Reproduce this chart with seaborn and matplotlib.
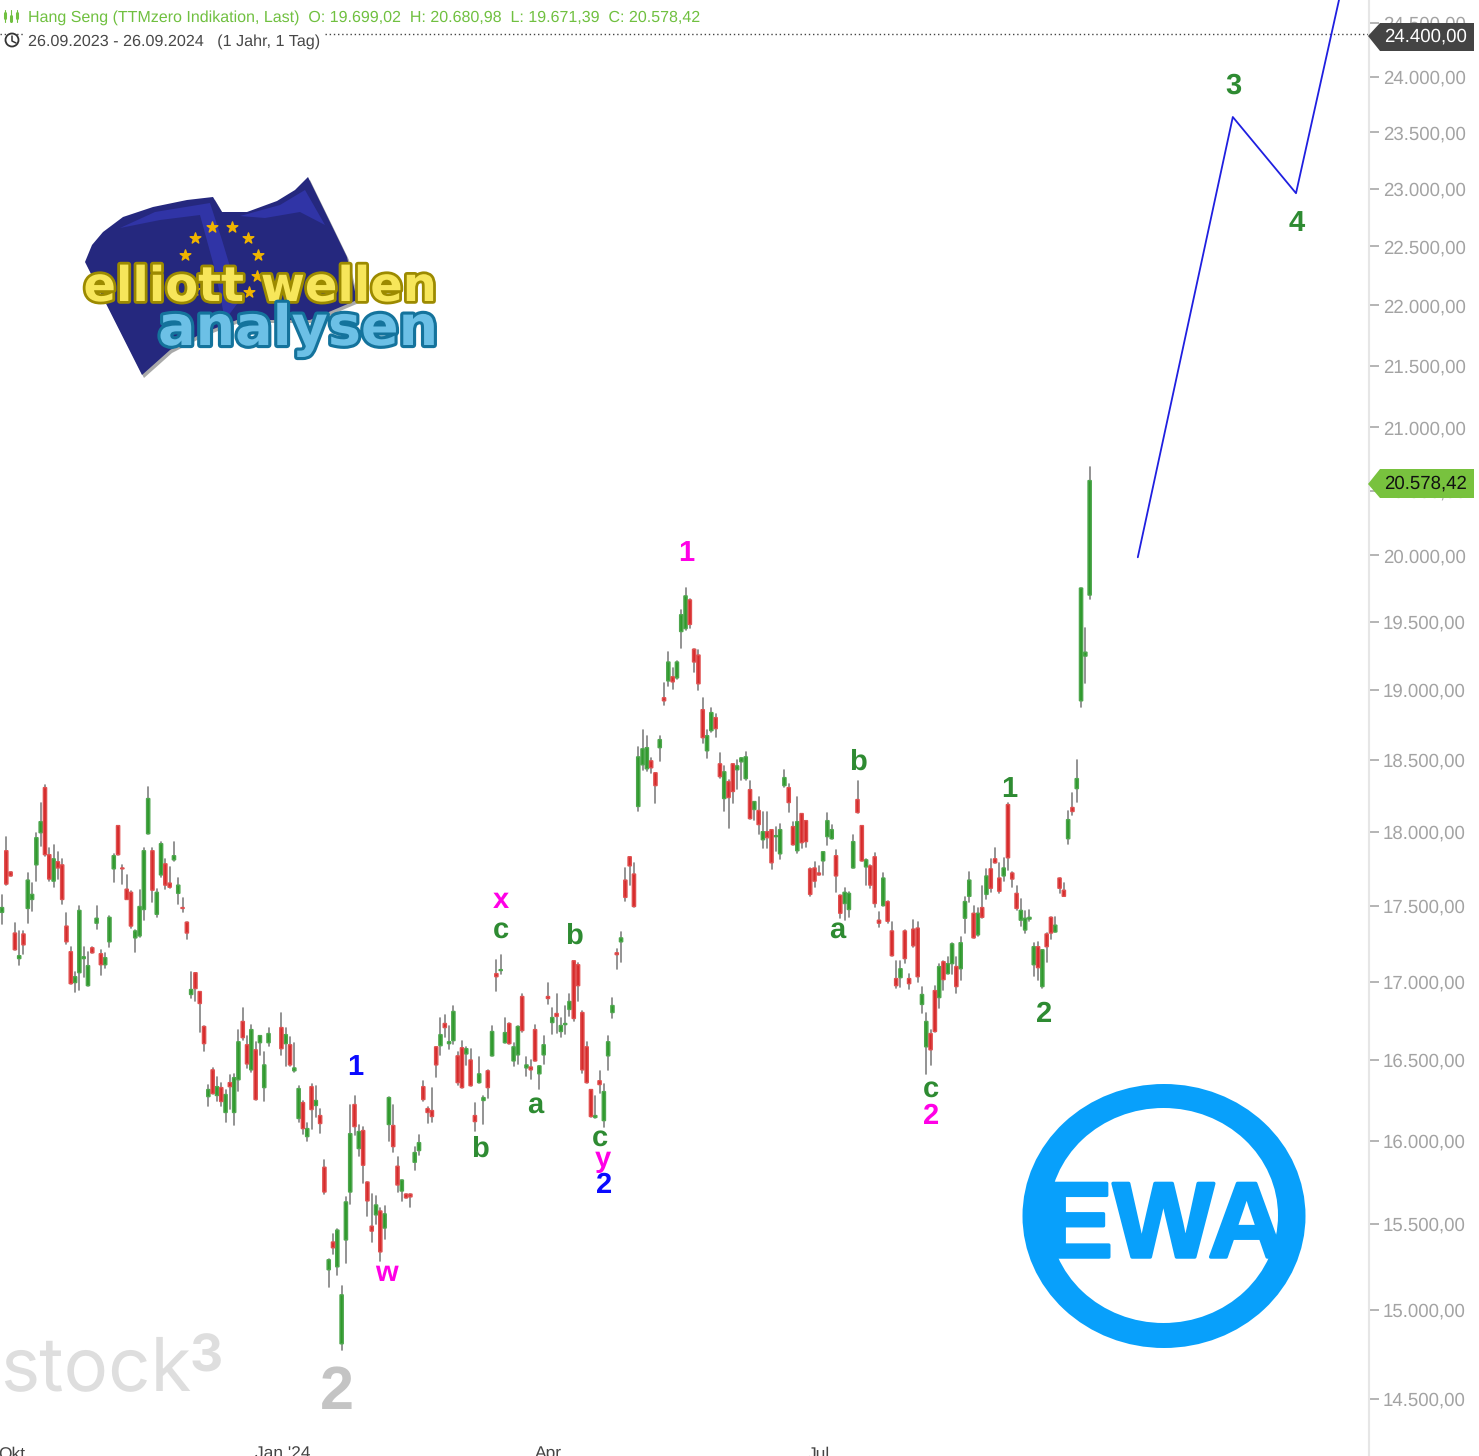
import numpy as np
import pandas as pd
import matplotlib
matplotlib.use("Agg")
import matplotlib.pyplot as plt
import matplotlib.patheffects as pe
from matplotlib.patches import Polygon, Ellipse, Circle
import seaborn as sns

# weekday slots, two days around new year are missing
skipped_days = [63, 64]
days = [d for d in range(254) if d not in skipped_days]

highs = [
    17569, 17966, 17726, 17383, 17332, 17332, 17719, 17651, 17993, 18201,
    18326, 17890, 17911, 17863, 17815, 17449, 17228, 17065, 17500, 17228,
    17195, 17228, 17500, 17208, 17188, 17429, 17849, 18042, 17774, 17706,
    17596, 17338, 17603, 17890, 18312, 17890, 17610, 17932, 17815, 17760,
    17932, 17685, 17548, 17390, 17065, 17058, 16936, 16712, 16346, 16450,
    16395, 16358, 16315, 16407, 16413, 16692, 16827, 16654, 16724, 16615,
    16654, 16551, 16705,
    16801, 16705, 16647, 16609, 16339, 16241, 16111, 16352, 16339, 16197,
    15881, 15296, 15441, 15470, 15139, 15661, 16222, 16278, 16099, 16086,
    15750, 15678, 15667, 15595, 15607, 16271, 16222, 15899, 15762, 15678,
    15678, 15964, 16037, 16370, 16204, 16327, 16583, 16763, 16788, 16718,
    16846, 16551, 16622, 16583, 16571, 16234, 16519, 16278, 16438, 16712,
    17143, 17176, 16763, 16731, 16609, 16718, 16923, 16519, 16500, 16724,
    16463, 16654, 16994, 16827, 16923, 16763, 16846, 16923, 17136, 17124,
    16808, 16615, 16315, 16278, 16432, 16352, 16654, 16897, 17214, 17325,
    17753, 17829, 17788, 18593, 18714, 18671, 18514, 18409, 18671, 19051,
    19275, 19160, 19210, 19589, 19752, 19670, 19297, 19290, 18943, 18714,
    18871, 18828, 18550, 18458, 18361, 18472, 18500, 18514, 18557, 18354,
    18208, 18243, 18139, 18139, 18014, 18035, 18056, 18430, 18333, 18069,
    18243, 18125, 18076, 17753, 17795, 17767, 17863, 18132, 18049, 17877,
    17569, 17616, 17589, 17979, 18354, 18042, 17815, 17774, 17856, 17455,
    17719, 17534, 17390, 17136, 17136, 17338, 17052, 17403, 17390, 16968,
    16801, 16692, 16974, 17117, 17136, 17162, 17254, 17162, 17292, 17555,
    17726, 17500, 17481, 17630, 17747, 17815, 17890, 17788, 17822, 18201,
    17726, 17630, 17541, 17462, 17468, 17254, 17260, 17208, 17318, 17422,
    17422, 17685, 17651, 18146, 18271, 18500, 19752, 19456, 20681,
]
lows = [
    17377, 17637, 17699, 17208, 17110, 17182, 17383, 17462, 17664, 17904,
    17836, 17664, 17623, 17678, 17514, 17247, 16987, 16936, 16949, 17032,
    16974, 17188, 17344, 17046, 17091, 17228, 17658, 17843, 17644, 17541,
    17351, 17195, 17292, 17403, 17986, 17521, 17422, 17692, 17610, 17616,
    17801, 17514, 17455, 17280, 16897, 16878, 16680, 16558, 16210, 16290,
    16241, 16210, 16117, 16197, 16093, 16308, 16628, 16450, 16426, 16253,
    16532, 16241, 16590,
    16532, 16463, 16463, 16426, 16117, 16043, 16000, 16074, 16148, 16049,
    15678, 15133, 15325, 15203, 14774, 15273, 15619, 16037, 15905, 15744,
    15548, 15394, 15500, 15284, 15412, 16000, 15934, 15690, 15637, 15655,
    15601, 15821, 15911, 16247, 16111, 16117, 16395, 16532, 16647, 16571,
    16603, 16346, 16327, 16469, 16339, 16062, 16358, 16105, 16265, 16526,
    16942, 17052, 16609, 16603, 16463, 16475, 16680, 16401, 16383, 16494,
    16321, 16475, 16859, 16667, 16673, 16647, 16667, 16782, 16744, 16872,
    16420, 16358, 16148, 16136, 16296, 16086, 16438, 16763, 17084, 17130,
    17534, 17637, 17494, 18146, 18430, 18423, 18409, 18201, 18493, 18892,
    19029, 19007, 19080, 19304, 19442, 19456, 19131, 19000, 18621, 18514,
    18700, 18664, 18375, 18146, 18028, 18201, 18298, 18361, 18361, 18090,
    18083, 17986, 17890, 17890, 17747, 17870, 17815, 18312, 18139, 17911,
    17856, 17890, 17897, 17562, 17623, 17706, 17706, 17911, 17952, 17589,
    17416, 17403, 17422, 17753, 18132, 17801, 17637, 17616, 17494, 17358,
    17500, 17383, 17169, 16962, 16968, 17124, 16955, 17228, 17000, 16795,
    16413, 16469, 16680, 16827, 16949, 17052, 17052, 16929, 17013, 17318,
    17527, 17286, 17299, 17416, 17541, 17589, 17788, 17582, 17664, 17740,
    17623, 17474, 17364, 17318, 17396, 17039, 17013, 16962, 17130, 17280,
    17325, 17582, 17562, 17918, 18118, 18208, 18879, 19051, 19671,
]
opens = [
    17455, 17870, 17726, 17318, 17150, 17312, 17481, 17541, 17774, 17993,
    18305, 17843, 17664, 17795, 17774, 17364, 17195, 16994, 17058, 17150,
    16974, 17221, 17383, 17182, 17110, 17260, 17747, 18042, 17753, 17610,
    17589, 17286, 17299, 17474, 17986, 17870, 17442, 17706, 17781, 17651,
    17808, 17582, 17487, 17390, 16917, 17058, 16936, 16712, 16271, 16438,
    16278, 16327, 16173, 16358, 16173, 16376, 16744, 16596, 16438, 16564,
    16609, 16327, 16609,
    16705, 16603, 16596, 16432, 16136, 16234, 16025, 16333, 16216, 16154,
    15839, 15232, 15394, 15249, 14808, 15406, 15690, 16222, 15952, 16062,
    15750, 15487, 15554, 15577, 15476, 16099, 16093, 15845, 15696, 15678,
    15678, 15869, 15940, 16333, 16197, 16185, 16583, 16590, 16731, 16603,
    16622, 16526, 16577, 16538, 16500, 16154, 16358, 16247, 16432, 16526,
    17052, 17072, 16609, 16731, 16494, 16532, 16904, 16450, 16456, 16692,
    16413, 16532, 16904, 16737, 16795, 16680, 16724, 16821, 17136, 17110,
    16801, 16583, 16315, 16142, 16370, 16123, 16526, 16801, 17188, 17260,
    17671, 17829, 17712, 18174, 18465, 18437, 18493, 18409, 18586, 18943,
    19065, 19095, 19087, 19427, 19449, 19663, 19297, 19254, 18857, 18564,
    18707, 18800, 18472, 18229, 18347, 18472, 18430, 18486, 18368, 18291,
    18153, 18146, 17945, 18000, 18014, 17966, 17849, 18319, 18305, 18035,
    17870, 18125, 18076, 17747, 17753, 17719, 17801, 17966, 17952, 17836,
    17569, 17514, 17474, 17753, 18222, 18042, 17760, 17767, 17829, 17403,
    17500, 17527, 17332, 17020, 17026, 17332, 17020, 17344, 17351, 16853,
    16583, 16667, 16942, 16897, 17130, 17052, 17117, 17098, 17084, 17416,
    17562, 17449, 17306, 17487, 17575, 17747, 17815, 17685, 17699, 18187,
    17719, 17582, 17403, 17338, 17410, 17110, 17228, 16968, 17312, 17422,
    17325, 17685, 17603, 17952, 18167, 18298, 18921, 19246, 19699,
]
closes = [
    17487, 17644, 17699, 17208, 17169, 17240, 17671, 17575, 17959, 18069,
    17843, 17678, 17815, 17753, 17541, 17260, 16987, 17032, 17468, 17162,
    17104, 17188, 17416, 17110, 17156, 17422, 17836, 17843, 17747, 17541,
    17364, 17332, 17494, 17870, 18229, 17603, 17589, 17918, 17637, 17623,
    17836, 17637, 17481, 17318, 16949, 16955, 16859, 16603, 16315, 16290,
    16333, 16241, 16284, 16333, 16389, 16615, 16641, 16475, 16692, 16253,
    16654, 16469, 16667,
    16571, 16660, 16469, 16450, 16321, 16074, 16074, 16191, 16247, 16105,
    15690, 15290, 15360, 15464, 15087, 15631, 16043, 16086, 16056, 15851,
    15637, 15458, 15613, 15336, 15560, 16265, 15964, 15732, 15762, 15655,
    15661, 15928, 15988, 16253, 16173, 16148, 16469, 16660, 16705, 16615,
    16808, 16358, 16327, 16571, 16339, 16117, 16413, 16265, 16327, 16680,
    17032, 17078, 16673, 16603, 16583, 16712, 16686, 16469, 16438, 16494,
    16463, 16596, 16891, 16769, 16776, 16718, 16731, 16872, 16763, 16974,
    16438, 16358, 16148, 16154, 16346, 16302, 16615, 16846, 17176, 17286,
    17555, 17767, 17494, 18521, 18578, 18586, 18444, 18319, 18643, 18921,
    19203, 19058, 19203, 19552, 19693, 19480, 19203, 19044, 18657, 18671,
    18836, 18721, 18382, 18416, 18236, 18278, 18458, 18514, 18521, 18090,
    18208, 18049, 18000, 17959, 17788, 17973, 18014, 18375, 18201, 17911,
    18069, 17925, 17932, 17575, 17664, 17706, 17863, 18076, 18014, 17699,
    17449, 17589, 17582, 17932, 18132, 17801, 17808, 17637, 17514, 17383,
    17685, 17396, 17169, 16974, 17084, 17150, 16987, 17234, 17032, 16917,
    16744, 16564, 16680, 17098, 17013, 17117, 17247, 16968, 17254, 17527,
    17671, 17286, 17449, 17422, 17699, 17616, 17788, 17596, 17753, 17822,
    17678, 17481, 17468, 17416, 17422, 17228, 17091, 17208, 17228, 17318,
    17370, 17616, 17562, 18083, 18139, 18368, 19752, 19275, 20578,
]

# blue forecast line
wave_days = [264.2, 286.3, 301.0, 311.0]
wave_prices = [19985, 23637, 22960, 24715]

axis_ticks = list(range(14500, 25000, 500))
last_price = 20578.42
drawn_level = 24400.00

W, H = 1479, 1456
GREEN_TXT = "#2e8b32"
MAGENTA = "#ff00e6"
BLUE = "#0a0aff"
EWA_BLUE = "#08a0fb"


def de_fmt(v):
    return f"{v:,.2f}".replace(",", "X").replace(".", ",").replace("X", ".")


def plot_candles(ax, df):
    wicks = df.melt(id_vars="day", value_vars=["low", "high"], value_name="price")
    sns.lineplot(data=wicks, x="day", y="price", units="day", estimator=None,
                 color="#808080", linewidth=1.2, ax=ax, legend=False, zorder=2)
    for up, fill, edge in [(True, "#2f9a2c", "#4ea64e"), (False, "#d62b2b", "#e05050")]:
        part = df[df["close"] >= df["open"]] if up else df[df["close"] < df["open"]]
        bottom = part[["open", "close"]].min(axis=1)
        top = part[["open", "close"]].max(axis=1)
        ax.bar(part["day"], top - bottom, bottom=bottom, width=0.75,
               color=fill, edgecolor=edge, linewidth=1.0, zorder=3, snap=False)


def plot_labels(ov):
    labels = [
        ("3", 1233, 83, GREEN_TXT), ("4", 1297, 220, GREEN_TXT), ("1", 686, 550, MAGENTA),
        ("x", 501, 897, MAGENTA), ("c", 501, 927, GREEN_TXT), ("b", 574, 933, GREEN_TXT),
        ("b", 858, 759, GREEN_TXT), ("1", 1009, 786, GREEN_TXT), ("a", 837, 927, GREEN_TXT),
        ("2", 1044, 1011, GREEN_TXT), ("c", 931, 1086, GREEN_TXT), ("2", 931, 1113, MAGENTA),
        ("1", 355, 1064, BLUE), ("w", 386, 1270, MAGENTA), ("a", 535, 1102, GREEN_TXT),
        ("b", 480, 1146, GREEN_TXT), ("c", 600, 1135, GREEN_TXT), ("y", 603, 1156, MAGENTA),
        ("2", 604, 1182, BLUE),
    ]
    for s, x, y, c in labels:
        ov.text(x, y, s, color=c, fontsize=21, fontweight="bold", ha="center",
                va="center_baseline", family="Liberation Sans")
    ov.text(337, 1387, "2", color="#c4c4c4", fontsize=44, fontweight="bold", ha="center",
            va="center_baseline", family="Liberation Sans")


def plot_header(ov):
    ov.text(28, 18, "Hang Seng (TTMzero Indikation, Last)  O: 19.699,02  H: 20.680,98  L: 19.671,39  C: 20.578,42",
            color="#70c040", fontsize=11.55, va="center", family="Liberation Sans")
    ov.text(28, 42, "26.09.2023 - 26.09.2024   (1 Jahr, 1 Tag)", color="#484848", fontsize=11.63,
            va="center", family="Liberation Sans",
            bbox=dict(fc="white", ec="none", pad=2))
    for x, y0, y1, b0, b1 in [(5, 10, 22, 13, 18), (11, 10, 22, 16, 21), (17, 10, 22, 13, 18)]:
        ov.plot([x, x], [y0, y1], color="#70c040", lw=0.8)
        ov.plot([x, x], [b0, b1], color="#70c040", lw=2.2)
    ov.add_patch(Circle((12, 40), 6.5, fc="white", ec="#333333", lw=1.3))
    ov.plot([12, 12, 16], [36, 41, 43], color="#333333", lw=1.1)


def plot_tags(ov):
    ov.add_patch(Polygon([(1368, 36), (1380, 23), (1474, 23), (1474, 51), (1380, 51)], fc="#444444", ec="none", zorder=5))
    ov.text(1425, 36.5, de_fmt(drawn_level), color="white", fontsize=13.4, ha="center", va="center",
            family="Liberation Sans", zorder=6)
    ov.add_patch(Polygon([(1368, 484), (1380, 469), (1474, 469), (1474, 498), (1380, 498)], fc="#78c23e", ec="none", zorder=5))
    ov.text(1425, 484, de_fmt(last_price), color="#111111", fontsize=13.4, ha="center", va="center",
            family="Liberation Sans", zorder=6)


def plot_month_labels(ov):
    for s, x in [("Okt", 12), ("Jan '24", 283), ("Apr", 548), ("Jul", 819)]:
        ov.text(x, 1454, s, color="#444444", fontsize=12.5, ha="center", va="center", family="Liberation Sans")


def plot_stock_logo(ov):
    ov.text(0, 1390, "stock", color="#dedede", fontsize=53.5, ha="left", va="baseline", family="Inter")
    ov.text(190, 1372, "3", color="#dedede", fontsize=37, fontweight="bold", ha="left", va="baseline", family="Inter")


def plot_flag_logo(ov):
    outline = [(85, 262), (92, 245), (103, 232), (123, 217), (153, 207), (187, 200), (213, 197), (222, 212),
               (247, 212), (277, 201), (295, 190), (308, 177), (330, 222), (347, 257), (357, 300), (310, 320),
               (237, 320), (203, 333), (170, 350), (142, 375)]
    shadow = [(x + 2, y + 3) for x, y in outline]
    ov.add_patch(Polygon(shadow, fc="#a9a9a9", ec="none", zorder=3))
    ov.add_patch(Polygon(outline, fc="#25287e", ec="none", zorder=3))
    ov.add_patch(Polygon([(120, 228), (155, 212), (210, 203), (222, 240), (240, 300), (225, 320), (215, 270), (200, 215), (160, 220)],
                         fc="#3034a6", ec="none", zorder=3))
    ov.add_patch(Polygon([(240, 216), (280, 205), (305, 190), (325, 225), (300, 212), (265, 218)], fc="#3034a6", ec="none", zorder=3))
    stars = [(195, 238), (212, 227), (232, 227), (248, 238), (258, 255), (185, 255), (257, 276), (249, 292), (194, 290)]
    ov.scatter([s[0] for s in stars], [s[1] for s in stars], marker="*", s=65, color="#f0b400", zorder=4)
    ov.text(260, 301, "elliott wellen", color="#f7e65a", fontsize=34.5, fontweight="bold", ha="center",
            va="baseline", family="DejaVu Sans", zorder=5,
            path_effects=[pe.withStroke(linewidth=4, foreground="#9c8a00")])
    ov.text(298, 345, "analysen", color="#6cc0e6", fontsize=40, fontweight="bold", ha="center",
            va="baseline", family="DejaVu Sans", zorder=6,
            path_effects=[pe.withStroke(linewidth=4.5, foreground="#14739c")])


def plot_ewa_logo(ov):
    ov.add_patch(Ellipse((1164, 1216), 283, 264, fc=EWA_BLUE, ec="none", zorder=3))
    ov.add_patch(Ellipse((1163.5, 1215.5), 229, 215, fc="white", ec="none", zorder=3))
    ov.text(1163.5, 1257, "EWA", color=EWA_BLUE, fontsize=77, fontweight="bold", ha="center", va="baseline",
            family=["Liberation Sans Narrow", "Liberation Sans"], zorder=4,
            path_effects=[pe.withStroke(linewidth=2.5, foreground=EWA_BLUE)])


def main():
    df = pd.DataFrame({"day": days, "open": opens, "high": highs, "low": lows, "close": closes})

    sns.set_theme(style="white")
    plt.rcParams["text.hinting"] = "none"
    fig = plt.figure(figsize=(W / 100, H / 100), dpi=100, facecolor="white")
    ax = fig.add_axes([0, 0, 1369 / W, 1])
    ax.set_yscale("log")

    plot_candles(ax, df)
    sns.lineplot(x=wave_days, y=wave_prices, sort=False, estimator=None, color="#1f1fe0",
                 linewidth=1.3, ax=ax, zorder=4)
    ax.axhline(drawn_level, color="#444444", lw=1, ls=(0, (1, 2)), zorder=1)

    ax.set_xlim(-0.465, 317.98)
    ax.set_ylim(14188, 24715)
    ax.set_xlabel("")
    ax.set_ylabel("")
    ax.set_xticks([])
    ax.yaxis.tick_right()
    ax.set_yticks(axis_ticks)
    ax.set_yticklabels([de_fmt(v) for v in axis_ticks], family="Liberation Sans", fontsize=13.4, color="#a3a3a3")
    ax.minorticks_off()
    ax.tick_params(axis="y", which="major", right=True, length=7, width=1.2, color="#a8a8a8", pad=3)
    for side in ["left", "top", "bottom"]:
        ax.spines[side].set_visible(False)
    ax.spines["right"].set_color("#e6e6e6")
    ax.spines["right"].set_linewidth(1.5)

    # pixel overlay for labels, logos and price tags
    ov = fig.add_axes([0, 0, 1, 1])
    ov.set_xlim(0, W)
    ov.set_ylim(H, 0)
    ov.axis("off")
    ov.patch.set_alpha(0)

    plot_labels(ov)
    plot_header(ov)
    plot_tags(ov)
    plot_month_labels(ov)
    plot_stock_logo(ov)
    plot_flag_logo(ov)
    plot_ewa_logo(ov)

    fig.savefig("out.png", dpi=100)
    plt.close(fig)


if __name__ == "__main__":
    main()
